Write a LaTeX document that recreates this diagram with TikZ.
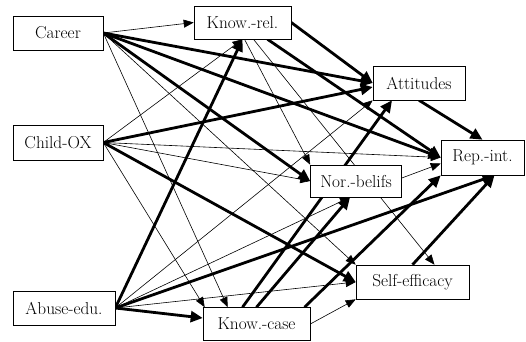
\documentclass[tikz,border=0pt]{standalone}
\usetikzlibrary{arrows.meta,backgrounds,calc}
\begin{document}
\begin{tikzpicture}[x=1pt,y=-1pt,
  box/.style={draw, line width=0.6pt, fill=white, inner sep=0pt, minimum height=34pt, font=\fontsize{17.28}{20}\selectfont},
  weak/.style={line width=0.6pt, -{Triangle[length=10pt,width=8pt]}},
  strong/.style={line width=2.8pt, -{Triangle[length=12pt,width=11pt]}}]
\useasboundingbox (0,0) rectangle (526,341);
% nodes
\node[box, minimum width=90pt] (car) at (58,33) {Career};
\node[box, minimum width=90pt, minimum height=35pt] (cox) at (58,142.5) {Child-OX};
\node[box, minimum width=102pt] (ab) at (64,308) {Abuse-edu.};
\node[box, minimum width=97pt, minimum height=33pt] (kr) at (242.5,22.5) {Know.-rel.};
\node[box, minimum width=92pt] (att) at (419,83) {Attitudes};
\node[box, minimum width=83pt, minimum height=35pt] (rep) at (482.5,157.5) {Rep.-int.};
\node[box, minimum width=91pt, minimum height=32pt] (nor) at (356,181) {Nor.-belifs};
\node[box, minimum width=113pt] (se) at (412.5,282) {Self-efficacy};
\node[box, minimum width=107pt, minimum height=33pt] (kc) at (256.5,324) {Know.-case};
\coordinate (nb) at ([xshift=-6pt]nor.south);
\coordinate (rb) at ([xshift=12pt]rep.south);
\begin{scope}[on background layer]
% Career
\draw[weak] (car.east) -- (kr.west);
\draw[strong] (car.east) -- (att.west);
\draw[strong] (car.east) -- (rep.west);
\draw[strong] (car.east) -- (nor.west);
\draw[weak] (car.east) -- (se.north west);
\draw[weak] (car.east) -- ([xshift=25pt]kc.north west);
% Child-OX
\draw[weak] (cox.east) -- (kr.south);
\draw[strong] (cox.east) -- ([yshift=-4pt]att.west);
\draw[weak] (cox.east) -- (rep.west);
\draw[weak] (cox.east) -- (nor.west);
\draw[strong] (cox.east) -- (se.west);
\draw[weak] (cox.east) -- ([xshift=2pt]kc.north west);
% Abuse-edu.
\draw[strong] (ab.east) -- (kr.south);
\draw[weak] (ab.east) -- (att.south west);
\draw[weak] (ab.east) -- (nb);
\draw[strong] (ab.east) -- (rb);
\draw[weak] (ab.east) -- (se.west);
\draw[strong] (ab.east) -- ([yshift=6pt]kc.west);
% Know.-rel.
\draw[strong] (kr.east) -- (att.west);
\draw[strong] ([xshift=25pt]kr.south) -- (rep.west);
\draw[weak] ([xshift=2pt]kr.south) -- (nor.north west);
\draw[weak] ([xshift=11pt]kr.south) -- ([xshift=22pt]se.north);
% Know.-case
\draw[strong] ([xshift=-14pt]kc.north) -- ([xshift=-27pt]att.south);
\draw[strong] (kc.north) -- (nb);
\draw[strong] ([xshift=48pt]kc.north) -- (rep.south west);
\draw[weak] (kc.east) -- (se.south west);
% mediators
\draw[strong] (att.south) -- (rep.north);
\draw[weak] ([yshift=3pt]nor.east) -- ([yshift=-6pt]rep.west);
\draw[strong] (se.north) -- (rb);
\end{scope}
\end{tikzpicture}
\end{document}
